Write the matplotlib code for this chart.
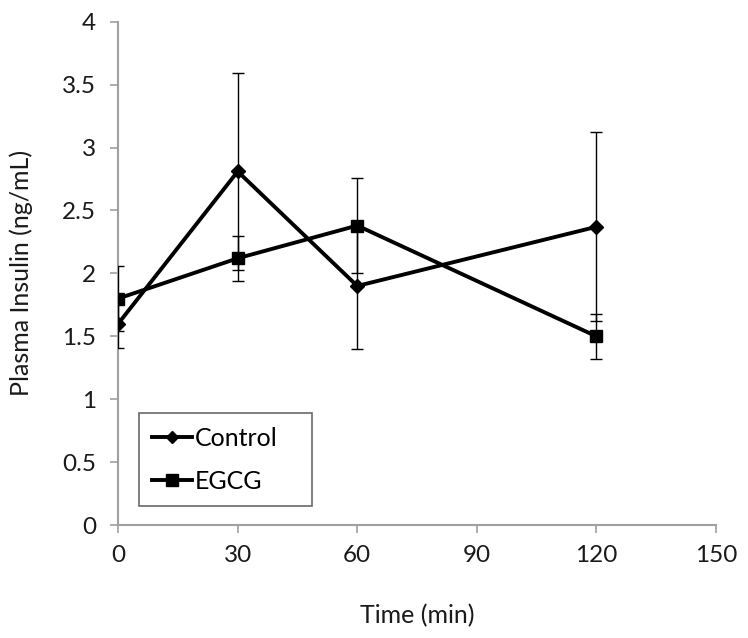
import matplotlib
matplotlib.use("Agg")
import matplotlib.pyplot as plt
from matplotlib.lines import Line2D

time_min = [0, 30, 60, 120]
control_mean = [1.60, 2.81, 1.90, 2.37]
control_err = [0.19, 0.78, 0.50, 0.75]
egcg_mean = [1.80, 2.12, 2.38, 1.50]
egcg_err = [0.26, 0.18, 0.38, 0.18]
x_ticks = [0, 30, 60, 90, 120, 150]
y_ticks = [0, 0.5, 1, 1.5, 2, 2.5, 3, 3.5, 4]
y_tick_labels = ["0", "0.5", "1", "1.5", "2", "2.5", "3", "3.5", "4"]
series_names = ["Control", "EGCG"]

plt.rcParams['font.family'] = ['Lato', 'DejaVu Sans']

fig = plt.figure(figsize=(7.48, 6.38), dpi=100)
ax = fig.add_axes([0.158, 0.177, 0.799, 0.789])

ax.errorbar(time_min, control_mean, yerr=control_err, color='black', lw=2.8,
            marker='D', markersize=7, ecolor='black', elinewidth=1.0,
            capsize=4, capthick=1.0, zorder=3)
ax.errorbar(time_min, egcg_mean, yerr=egcg_err, color='black', lw=2.8,
            marker='s', markersize=9, ecolor='black', elinewidth=1.0,
            capsize=4, capthick=1.0, zorder=3)

ax.set_xlim(0, 150)
ax.set_ylim(0, 4)
ax.set_xticks(x_ticks)
ax.set_yticks(y_ticks)
ax.set_yticklabels(y_tick_labels)

for s in ['top', 'right']:
    ax.spines[s].set_visible(False)
for s in ['left', 'bottom']:
    ax.spines[s].set_color('#a0a0a0')
    ax.spines[s].set_linewidth(1.5)
ax.tick_params(axis='both', colors='#a0a0a0', length=6, width=1.2,
               labelsize=17.5, labelcolor='#1a1a1a', direction='out')
ax.tick_params(axis='x', pad=8)
ax.tick_params(axis='y', pad=10)

ax.set_xlabel('Time (min)', fontsize=18, color='#1a1a1a', labelpad=28)
ax.set_ylabel('Plasma Insulin (ng/mL)', fontsize=18, color='#1a1a1a', labelpad=21)

handles = [
    Line2D([], [], color='black', lw=2.8, marker='D', markersize=6),
    Line2D([], [], color='black', lw=2.8, marker='s', markersize=8),
]
leg = ax.legend(handles, series_names, loc='upper left',
                bbox_to_anchor=(0.034, 0.04, 0.29, 0.183), mode='expand',
                borderaxespad=0, fontsize=18, frameon=True, fancybox=False,
                handlelength=1.6, handletextpad=0.1, labelspacing=0.8,
                borderpad=0.55)
leg.get_frame().set_edgecolor('#444444')
leg.get_frame().set_linewidth(1.2)

fig.savefig('out.png', dpi=100)
